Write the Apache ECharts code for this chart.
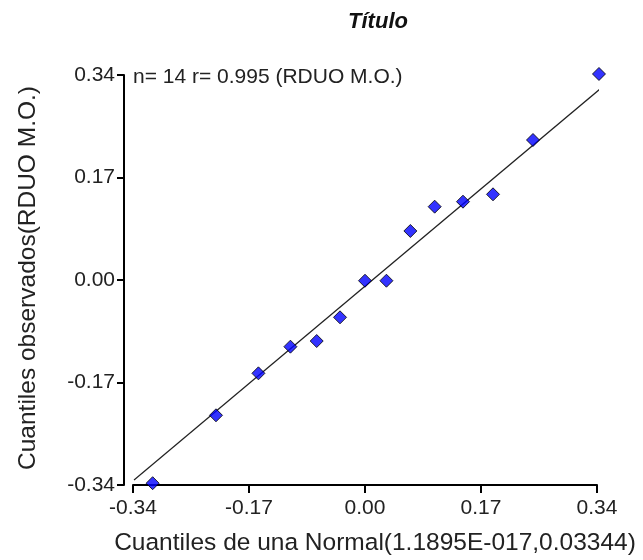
<!DOCTYPE html>
<html>
<head>
<meta charset="utf-8">
<script src="https://cdn.jsdelivr.net/npm/echarts@6/dist/echarts.min.js"></script>
<style>html,body{margin:0;padding:0;background:#fff;}#c{width:643px;height:560px;}</style>
</head>
<body>
<div id="c"></div>
<script>
var theoretical = [-0.3112, -0.2184, -0.1562, -0.1093, -0.0708, -0.0366, 0.0000, 0.0314, 0.0665, 0.1021, 0.1436, 0.1876, 0.2462, 0.3429];
var observed    = [-0.3370, -0.2244, -0.1548, -0.1106, -0.1012, -0.0619, -0.0012, -0.0012, 0.0813, 0.1216, 0.1299, 0.1421, 0.2322, 0.3417];
var fitLineX = [-0.3385, 0.3649];
var fitLineY = [-0.3317, 0.3362];
var tickValues = [-0.34, -0.17, 0.00, 0.17, 0.34];
var titleText = 'Título';
var noteText = 'n= 14 r= 0.995 (RDUO M.O.)';
var xName = 'Cuantiles de una Normal(1.1895E-017,0.03344)';
var yName = 'Cuantiles observados(RDUO M.O.)';

var FONT = '"Liberation Sans", Arial, sans-serif';
var pts = theoretical.map(function (x, i) { return [x, observed[i]]; });
var linePts = fitLineX.map(function (x, i) { return [x, fitLineY[i]]; });
var tickMin = tickValues[0], tickMax = tickValues[tickValues.length - 1];
var tickStep = tickValues[1] - tickValues[0];

var chart = echarts.init(document.getElementById('c'), null, {renderer: 'canvas'});
chart.setOption({
  animation: false,
  backgroundColor: '#ffffff',
  graphic: [{
    type: 'text', x: 378, y: 22,
    style: {text: titleText, fontFamily: FONT, fontSize: 22, fontWeight: 'bold', fontStyle: 'italic',
      fill: '#111', align: 'center', verticalAlign: 'middle'}
  }, {
    type: 'text', x: 133, y: 77,
    style: {text: noteText, fontFamily: FONT, fontSize: 21, fill: '#222', align: 'left', verticalAlign: 'middle'}
  }, {
    type: 'text', x: 375, y: 543,
    style: {text: xName, fontFamily: FONT, fontSize: 24.5, fill: '#222', align: 'center', verticalAlign: 'middle'}
  }, {
    type: 'text', x: 28, y: 278, rotation: Math.PI / 2,
    style: {text: yName, fontFamily: FONT, fontSize: 24.5, fill: '#222', align: 'center', verticalAlign: 'middle'}
  }],
  grid: {left: 133, right: 46, top: 75, bottom: 75, containLabel: false},
  xAxis: {
    type: 'value', min: tickMin, max: tickMax, interval: tickStep,
    axisLine: {show: true, onZero: false, lineStyle: {color: '#000', width: 2}},
    axisTick: {show: true, length: 8, inside: false, lineStyle: {color: '#000', width: 2}},
    axisLabel: {fontFamily: FONT, fontSize: 21, color: '#222', margin: 13,
      formatter: function (v) { return v.toFixed(2); }},
    splitLine: {show: false}
  },
  yAxis: {
    type: 'value', min: tickMin, max: tickMax, interval: tickStep, offset: 9,
    axisLine: {show: true, onZero: false, lineStyle: {color: '#000', width: 2}},
    axisTick: {show: true, length: 7, inside: false, lineStyle: {color: '#000', width: 2}},
    axisLabel: {fontFamily: FONT, fontSize: 21, color: '#222', margin: 9,
      formatter: function (v) { return v.toFixed(2); }},
    splitLine: {show: false}
  },
  series: [{
    type: 'line', data: linePts, clip: false, symbol: 'none', silent: true,
    lineStyle: {color: '#222', width: 1.2}, z: 2
  }, {
    type: 'scatter', data: pts, clip: false, symbol: 'diamond', symbolSize: 13,
    itemStyle: {color: '#0000ff', borderColor: '#000', borderWidth: 1}, z: 3
  }]
});
</script>
</body>
</html>
